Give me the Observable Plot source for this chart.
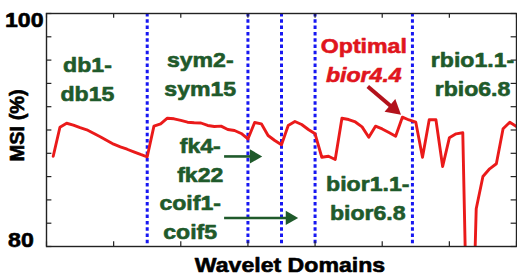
<!DOCTYPE html>
<html><head><meta charset="utf-8">
<script src="https://cdn.jsdelivr.net/npm/d3@7"></script>
<script src="https://cdn.jsdelivr.net/npm/@observablehq/plot@0.6"></script>
<style>body{margin:0;background:#fff}</style>
</head><body><div id="chart"></div>
<script>
// ---- data ----
const dbNames = ["db1","db2","db3","db4","db5","db6","db7","db8","db9","db10","db11","db12","db13","db14","db15"];
const symNames = ["sym2","sym3","sym4","sym5","sym6","sym7","sym8","sym9","sym10","sym11","sym12","sym13","sym14","sym15"];
const fkNames = ["fk4","fk6","fk8","fk14","fk18","fk22"];
const coifNames = ["coif1","coif2","coif3","coif4","coif5"];
const biorNames = ["bior1.1","bior1.3","bior1.5","bior2.2","bior2.4","bior2.6","bior2.8","bior3.1","bior3.3","bior3.5","bior3.7","bior3.9","bior4.4","bior5.5","bior6.8"];
const rbioNames = ["rbio1.1","rbio1.3","rbio1.5","rbio2.2","rbio2.4","rbio2.6","rbio2.8","rbio3.1","rbio3.3","rbio3.5","rbio3.7","rbio3.9","rbio4.4","rbio5.5","rbio6.8"];

const msiValues = [
  87.75, 90.24, 90.58, 90.42, 90.2, 90.02, 89.72, 89.42, 89.1, 88.78, 88.55, 88.35, 88.12, 87.9, 87.7,
  90.33, 90.53, 91.01, 90.96, 90.82, 90.67, 90.62, 90.6, 90.39, 90.3, 90.33, 90.04, 89.96, 89.7,
  89.23, 90.64, 90.53, 89.53, 89.1, 88.73,
  90.39, 90.73, 90.47, 90.04, 89.67,
  87.66, 87.75, 87.47, 91.01, 90.9, 90.69, 90.27, 89.38, 90.33, 90.09, 89.79, 89.47, 91.1, 90.86, 90.67,
  87.66, 90.88, 90.88, 86.87, 89.33, 89.67, 89.76, 62.0, 83.24, 86.01, 86.67, 87.1, 90.1, 90.67, 90.3
];

const domainBoundaries = [15, 30, 35, 40, 54.5];
const yTickValues = [80, 82, 84, 86, 88, 90, 92, 94, 96, 98, 100];
const xTickValues = [0, 10, 20, 30, 40, 50, 60, 70];
const yTickLabels = ["100", "80"];
const domainLabels = ["db1-\ndb15", "sym2-\nsym15", "fk4-\nfk22", "coif1-\ncoif5", "bior1.1-\nbior6.8", "rbio1.1-\nrbio6.8"];
const optimalLabel = "Optimal";
const optimalName = "bior4.4";
const yTitle = "MSI (%)";
const xTitle = "Wavelet Domains";

// ---- table ----
const wavelets = [...dbNames, ...symNames, ...fkNames, ...coifNames, ...biorNames, ...rbioNames];
const data = wavelets.map((name, i) => ({name, pos: i + 1, msi: msiValues[i]}));

const green = "#1f5a2b", red = "#e0151d", darkRed = "#b3121c", blue = "#1717f2";
const domainText = [
  {text: domainLabels[0], x: 6.1, y: 94.5},
  {text: domainLabels[1], x: 22.9, y: 94.95},
  {text: domainLabels[2], x: 22.9, y: 87.6},
  {text: domainLabels[3], x: 21.4, y: 82.7},
  {text: domainLabels[4], x: 47.85, y: 84.3},
  {text: domainLabels[5], x: 63.45, y: 94.95}
];
const greenArrows = [{x1: 26.45, x2: 30.9, y: 87.73}, {x1: 26.45, x2: 36.25, y: 82.45}];
const redArrow = [{x1: 47.85, y1: 93.73, x2: 51.7, y2: 91.85}];
const fontFamily = "Liberation Sans, Arial, sans-serif";
const heavy = c => ({fill: c, stroke: c, strokeWidth: 0.6, fontWeight: "bold"});

const chart = Plot.plot({
  width: 517, height: 279,
  marginLeft: 46, marginRight: 1, marginTop: 13, marginBottom: 33,
  x: {domain: [0, 70], axis: null},
  y: {domain: [80, 100], axis: null},
  style: {fontFamily, background: "#fff", overflow: "visible"},
  marks: [
    Plot.ruleX(domainBoundaries, {stroke: blue, strokeWidth: 3, strokeDasharray: "3.5,2.8"}),
    Plot.line(data, {x: "pos", y: "msi", stroke: "#ea1a1a", strokeWidth: 2.9, clip: true}),
    Plot.ruleY(yTickValues, {x1: 0, x2: 0.8, stroke: "#222", strokeWidth: 1.2}),
    Plot.ruleY(yTickValues, {x1: 70, x2: 69.2, stroke: "#222", strokeWidth: 1.2}),
    Plot.ruleX(xTickValues, {y1: 100, y2: 99.6, stroke: "#222", strokeWidth: 1.2}),
    Plot.ruleX(xTickValues, {y1: 80, y2: 80.4, stroke: "#222", strokeWidth: 1.2}),
    Plot.frame({stroke: "#222", strokeWidth: 1.4}),
    // domain labels
    Plot.text(domainText, {x: "x", y: "y", text: "text", ...heavy(green), fontSize: 21, lineHeight: 1.38}),
    Plot.link(greenArrows, {x1: "x1", x2: "x2", y1: "y", y2: "y", stroke: green, strokeWidth: 2.6}),
    Plot.dot(greenArrows, {x: "x2", y: "y", symbol: "triangle", rotate: 90, r: 5.3, fill: green, stroke: "none"}),
    // optimal annotation
    Plot.text([optimalLabel], {x: 47.26, y: 97.23, text: d => d, ...heavy(red), fontSize: 21}),
    Plot.text([optimalName], {x: 47.26, y: 94.74, text: d => d, ...heavy(red), fontSize: 21, fontStyle: "italic"}),
    Plot.link(redArrow, {x1: "x1", y1: "y1", x2: "x2", y2: "y2", stroke: darkRed, strokeWidth: 4}),
    Plot.dot(redArrow, {x: "x2", y: "y2", symbol: "triangle", rotate: 130, r: 6.2, fill: darkRed, stroke: "none"}),
    // axis labels
    Plot.text([yTickLabels[0]], {x: -0.45, y: 99.42, text: d => d, textAnchor: "end", ...heavy("#000"), fontSize: 21}),
    Plot.text([yTickLabels[1]], {x: -1.9, y: 80.54, text: d => d, textAnchor: "end", ...heavy("#000"), fontSize: 21}),
    Plot.text([yTitle], {x: -4.3, y: 90.4, text: d => d, rotate: -90, ...heavy("#000"), fontSize: 20}),
    Plot.text([xTitle], {x: 36.26, y: 78.37, text: d => d, ...heavy("#000"), fontSize: 21})
  ]
});

// slight horizontal widening of the bold text, as in the reference
d3.select(chart).selectAll("text").each(function() {
  const t = this.getAttribute("transform");
  if (t && t.includes("rotate")) return;
  if (t) this.setAttribute("transform", t + " scale(1.1,1)");
  else {
    const x = +this.getAttribute("x") || 0, y = +this.getAttribute("y") || 0;
    this.setAttribute("transform", `translate(${x},${y}) scale(1.1,1) translate(${-x},${-y})`);
  }
});

document.getElementById("chart").appendChild(chart);
</script>
</body></html>
